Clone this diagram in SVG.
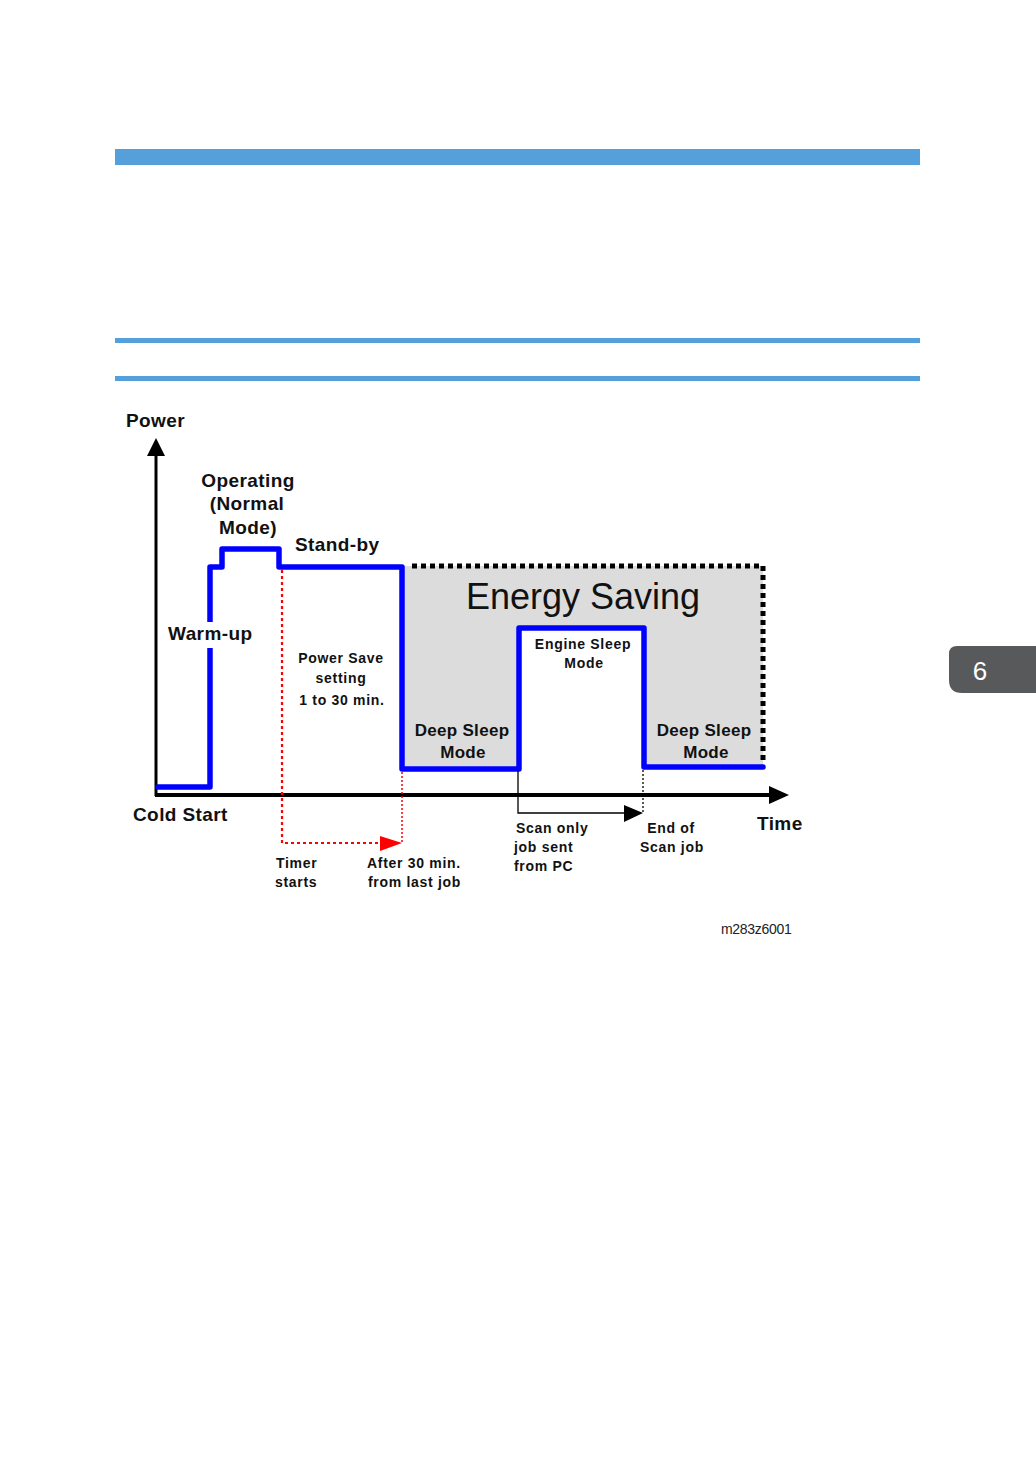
<svg xmlns="http://www.w3.org/2000/svg" width="1036" height="1470" viewBox="0 0 1036 1470">
<style>
.b{font-family:"Liberation Sans",Arial,sans-serif;font-weight:bold;fill:#111}
.l{font-size:19px;letter-spacing:0.4px}
.m{font-size:17px;letter-spacing:0.3px}
.s{font-size:14px;letter-spacing:0.7px}
.c{text-anchor:middle}
.blue{fill:none;stroke:#0000ff;stroke-width:5.5;stroke-linejoin:round;stroke-linecap:round}
</style>
<rect width="1036" height="1470" fill="#fff"/>
<g id="header">
<rect x="115" y="149" width="805" height="16" fill="#559fdb"/>
<rect x="115" y="338" width="805" height="5" fill="#559fdb"/>
<rect x="115" y="376" width="805" height="5" fill="#559fdb"/>
</g>
<g id="tab">
<path d="M949,654 Q949,646 957,646 L1036,646 L1036,693 L962,693 Q949,693 949,680 Z" fill="#58595b"/>
<text x="980" y="680" font-family="Liberation Sans,Arial,sans-serif" font-size="26" fill="#fff" text-anchor="middle">6</text>
</g>
<g id="energy-saving-area">
<rect x="402" y="566" width="361" height="202" fill="#dcdcdc"/>
<rect x="519" y="628" width="125" height="141" fill="#fff"/>
<path d="M412,566 L763,566 L763,760" fill="none" stroke="#000" stroke-width="5" stroke-dasharray="5,4"/>
</g>
<g id="connectors">
<line x1="156" y1="796" x2="156" y2="456" stroke="#000" stroke-width="3"/>
<path d="M147,456 L156,438 L165,456 z" fill="#000"/>
<line x1="155" y1="795" x2="772" y2="795" stroke="#000" stroke-width="4"/>
<path d="M769,786 L789,795 L769,804 z" fill="#000"/>
<polyline class="blue" points="158,787 210,787 210,567 222,567 222,549 279,549 279,567 402,567 402,769 519,769 519,628 644,628 644,767 763,767"/>
<path d="M282,570 L282,843 L382,843" fill="none" stroke="#ff0000" stroke-width="2.2" stroke-dasharray="3,3"/>
<path d="M380,836 L402,843 L380,851 z" fill="#ff0000"/>
<line x1="402" y1="772" x2="402" y2="843" stroke="#ff0000" stroke-width="1.5" stroke-dasharray="2,2"/>
<path d="M518,771 L518,813 L626,813" fill="none" stroke="#000" stroke-width="1.3"/>
<path d="M624,805 L643,813 L624,822 z" fill="#000"/>
<line x1="643" y1="770" x2="643" y2="813" stroke="#000" stroke-width="1.3" stroke-dasharray="2,2"/>
</g>
<g id="labels">
<text class="b l" x="126" y="427">Power</text>
<text class="b l c" x="248" y="487">Operating</text>
<text class="b l c" x="247" y="510">(Normal</text>
<text class="b l c" x="248" y="534">Mode)</text>
<text class="b l" x="295" y="551">Stand-by</text>
<rect x="166" y="622" width="92" height="26" fill="#fff"/>
<text class="b l" x="168" y="640">Warm-up</text>
<text x="583" y="609" font-family="Liberation Sans,Arial,sans-serif" font-size="36" fill="#111" text-anchor="middle">Energy Saving</text>
<text class="b s c" x="341" y="663">Power Save</text>
<text class="b s c" x="341" y="683">setting</text>
<text class="b s c" x="342" y="705">1 to 30 min.</text>
<text class="b s c" x="583" y="649">Engine Sleep</text>
<text class="b s c" x="584" y="668">Mode</text>
<text class="b m c" x="462" y="736">Deep Sleep</text>
<text class="b m c" x="463" y="758">Mode</text>
<text class="b m c" x="704" y="736">Deep Sleep</text>
<text class="b m c" x="706" y="758">Mode</text>
<text class="b l" x="133" y="821">Cold Start</text>
<text class="b l" x="757" y="830">Time</text>
<text class="b s" x="276" y="868">Timer</text>
<text class="b s" x="275" y="887">starts</text>
<text class="b s" x="367" y="868">After 30 min.</text>
<text class="b s" x="368" y="887">from last job</text>
<text class="b s" x="516" y="833">Scan only</text>
<text class="b s" x="514" y="852">job sent</text>
<text class="b s" x="514" y="871">from PC</text>
<text class="b s c" x="671" y="833">End of</text>
<text class="b s c" x="672" y="852">Scan job</text>
<text x="721" y="934" font-family="Liberation Sans,Arial,sans-serif" font-size="14" fill="#222" letter-spacing="-0.3">m283z6001</text>
</g>
</svg>
